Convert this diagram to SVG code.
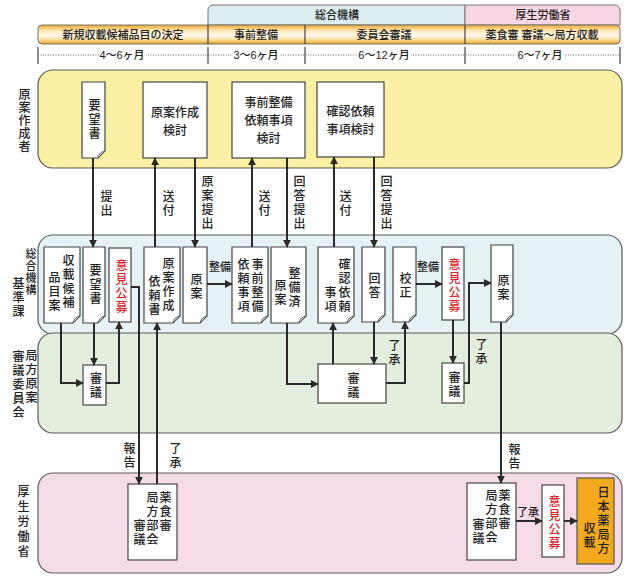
<svg xmlns="http://www.w3.org/2000/svg" width="641" height="578" viewBox="0 0 641 578">
<defs>
<linearGradient id="og" x1="0" y1="0" x2="0" y2="1">
<stop offset="0" stop-color="#eea52a"/><stop offset="0.28" stop-color="#fde6b0"/><stop offset="0.55" stop-color="#fffaf0"/><stop offset="0.8" stop-color="#fbd890"/><stop offset="1" stop-color="#eb9e1e"/>
</linearGradient>
<marker id="ah" viewBox="0 0 10 10" refX="9" refY="5" markerWidth="4" markerHeight="4" orient="auto"><path d="M0,0L10,5L0,10Z" fill="#2a2a2a"/></marker>
</defs>
<style>
text{font-family:"Liberation Sans","Noto Sans CJK JP",sans-serif;fill:#222;font-weight:500}
.h{font-size:11px;text-anchor:middle;dominant-baseline:central}
.v{writing-mode:vertical-rl;text-anchor:middle;font-size:12px;letter-spacing:2px}
.lane{stroke:#5a5a5a;stroke-width:1.2}
.box{fill:#fff;stroke:#444;stroke-width:1.2}
.fold{fill:#d8d8d8;stroke:#444;stroke-width:0.8}
.ln{fill:none;stroke:#2a2a2a;stroke-width:2;marker-end:url(#ah)}
.red{fill:#e3232c}
.tick{stroke:#444;stroke-width:1.2}
</style>
<rect width="641" height="578" fill="#fff"/>

<g id="header">
<path d="M208,25V10a5,5 0 0 1 5,-5H465V25Z" fill="#dcedf2" stroke="#777"/>
<path d="M465,25V5H615a5,5 0 0 1 5,5V25Z" fill="#f8d6e6" stroke="#777"/>
<text class="h" x="337" y="15">総合機構</text>
<text class="h" x="543" y="15">厚生労働省</text>
<rect x="38" y="25" width="582" height="19" rx="4" fill="url(#og)" stroke="#777"/>
<path d="M208,25V44M305,25V44M465,25V44" class="tick"/>
<text class="h" x="123" y="35">新規収載候補品目の決定</text>
<text class="h" x="256" y="35">事前整備</text>
<text class="h" x="384" y="35">委員会審議</text>
<text class="h" x="542" y="35">薬食審 審議～局方収載</text>
<line x1="38" y1="55" x2="620" y2="55" stroke="#666" stroke-dasharray="1 1.5"/>
<rect x="99" y="47" width="47" height="16" fill="#fff"/>
<rect x="233" y="47" width="47" height="16" fill="#fff"/>
<rect x="357" y="47" width="54" height="16" fill="#fff"/>
<rect x="516" y="47" width="48" height="16" fill="#fff"/>
<path d="M38,47V64M208,47V64M305,47V64M465,47V64M620,47V64" class="tick"/>
<text class="h" x="122" y="55">4～6ヶ月</text>
<text class="h" x="256" y="55">3～6ヶ月</text>
<text class="h" x="384" y="55">6～12ヶ月</text>
<text class="h" x="540" y="55">6～7ヶ月</text>
</g>

<g id="lane-author">
<rect x="38" y="70" width="584" height="98" rx="15" fill="#fbf0a4" class="lane"/>
<text class="v" x="23" y="121" style="letter-spacing:1px">原案作成者</text>
</g>
<g id="lane-pmda">
<rect x="38" y="235" width="584" height="99" rx="15" fill="#e4f1f5" class="lane"/>
<text class="v" x="30" y="272" style="font-size:11px;letter-spacing:1px">総合機構</text>
<text class="v" x="17" y="298">基準課</text>
</g>
<g id="lane-committee">
<rect x="38" y="333" width="584" height="100" rx="15" fill="#e2efdc" class="lane"/>
<text class="v" x="30" y="377">局方原案</text>
<text class="v" x="17" y="385">審議委員会</text>
</g>
<g id="lane-mhlw">
<rect x="38" y="473" width="584" height="100" rx="15" fill="#f6dbe9" class="lane"/>
<text class="v" x="22" y="523" style="letter-spacing:3px">厚生労働省</text>
</g>

<g id="n-youbou1"><path class="box" d="M82,82H105V151L98,158H82Z"/><path class="fold" d="M105,151L98,158Q99,152 105,151Z"/><text class="v" x="93" y="120">要望書</text></g>
<g id="n-gen-kentou"><rect class="box" x="143" y="82" width="64" height="76"/><text class="h" x="175" y="113" style="font-size:12px">原案作成</text><text class="h" x="175" y="131" style="font-size:12px">検討</text></g>
<g id="n-jizen-kentou"><rect class="box" x="232" y="82" width="73" height="76"/><text class="h" x="268.5" y="103" style="font-size:12px">事前整備</text><text class="h" x="268.5" y="121" style="font-size:12px">依頼事項</text><text class="h" x="268.5" y="139" style="font-size:12px">検討</text></g>
<g id="n-kakunin-kentou"><rect class="box" x="317" y="82" width="67" height="75"/><text class="h" x="350.5" y="112" style="font-size:12px">確認依頼</text><text class="h" x="350.5" y="130" style="font-size:12px">事項検討</text></g>

<g id="n-kouho"><path class="box" d="M44,247H80V316L73,323H44Z"/><path class="fold" d="M80,316L73,323Q74,317 80,316Z"/><text class="v" x="67" y="282">収載候補</text><text class="v" x="53" y="292">品目案</text></g>
<g id="n-youbou2"><path class="box" d="M83,247H105V316L98,323H83Z"/><path class="fold" d="M105,316L98,323Q99,317 105,316Z"/><text class="v" x="94" y="285">要望書</text></g>
<g id="n-iken1"><rect class="box" x="109" y="248" width="22" height="74"/><text class="v red" x="120" y="287">意見公募</text></g>
<g id="n-irai"><path class="box" d="M144,247H180V316L173,323H144Z"/><path class="fold" d="M180,316L173,323Q174,317 180,316Z"/><text class="v" x="167" y="285">原案作成</text><text class="v" x="153" y="296">依頼書</text></g>
<g id="n-genan1"><path class="box" d="M183,247H207V316L200,323H183Z"/><path class="fold" d="M207,316L200,323Q201,317 207,316Z"/><text class="v" x="195" y="287">原案</text></g>
<g id="n-jizen-irai"><path class="box" d="M232,247H268V316L261,323H232Z"/><path class="fold" d="M268,316L261,323Q262,317 268,316Z"/><text class="v" x="256" y="286">事前整備</text><text class="v" x="242" y="286">依頼事項</text></g>
<g id="n-seibizumi"><path class="box" d="M271,247H306V316L299,323H271Z"/><path class="fold" d="M306,316L299,323Q300,317 306,316Z"/><text class="v" x="293" y="288">整備済</text><text class="v" x="279" y="293">原案</text></g>
<g id="n-kakunin-irai"><path class="box" d="M318,247H354V316L347,323H318Z"/><path class="fold" d="M354,316L347,323Q348,317 354,316Z"/><text class="v" x="343" y="286">確認依頼</text><text class="v" x="329" y="300">事項</text></g>
<g id="n-kaitou"><path class="box" d="M362,247H385V315L378,322H362Z"/><path class="fold" d="M385,315L378,322Q379,316 385,315Z"/><text class="v" x="373" y="286">回答</text></g>
<g id="n-kousei"><path class="box" d="M393,247H416V315L409,322H393Z"/><path class="fold" d="M416,315L409,322Q410,316 416,315Z"/><text class="v" x="404" y="286">校正</text></g>
<g id="n-iken2"><rect class="box" x="442" y="247" width="22" height="73"/><text class="v red" x="453" y="286">意見公募</text></g>
<g id="n-genan2"><path class="box" d="M491,245H513V315L506,322H491Z"/><path class="fold" d="M513,315L506,322Q507,316 513,315Z"/><text class="v" x="502" y="288">原案</text></g>

<g id="n-shingi1"><rect class="box" x="83" y="365" width="23" height="40"/><text class="v" x="94.5" y="386">審議</text></g>
<g id="n-shingi2"><rect class="box" x="318" y="364" width="68" height="39"/><text class="v" x="352" y="386">審議</text></g>
<g id="n-shingi3"><rect class="box" x="442" y="363" width="22" height="40"/><text class="v" x="453" y="385">審議</text></g>

<g id="n-bukai1"><rect class="box" x="128" y="484" width="49" height="76"/><text class="v" x="164" y="512">薬食審</text><text class="v" x="151" y="519">局方部会</text><text class="v" x="138" y="533">審議</text></g>
<g id="n-bukai2"><rect class="box" x="467" y="483" width="49" height="77"/><text class="v" x="503" y="510">薬食審</text><text class="v" x="490" y="517">局方部会</text><text class="v" x="477" y="532">審議</text></g>
<g id="n-iken3"><rect class="box" x="542" y="485" width="22" height="72"/><text class="v red" x="553" y="523">意見公募</text></g>
<g id="n-jp"><rect x="577" y="478" width="37" height="86" fill="#f3a91c" stroke="#555" stroke-width="1.2"/><text class="v" x="602" y="521">日本薬局方</text><text class="v" x="588" y="536">収載</text></g>

<g id="connectors">
<path class="ln" d="M93,158V247"/>
<path class="ln" d="M155,247V158"/>
<path class="ln" d="M195,158V247"/>
<path class="ln" d="M252,247V158"/>
<path class="ln" d="M287,158V247"/>
<path class="ln" d="M334,247V157"/>
<path class="ln" d="M374,157V247"/>
<path class="ln" d="M207,284H232"/>
<path class="ln" d="M416,284H442"/>
<path class="ln" d="M61,323V383H83"/>
<path class="ln" d="M94,323V365"/>
<path class="ln" d="M106,383H119V322"/>
<path class="ln" d="M131,287H139V484"/>
<path class="ln" d="M157,484V323"/>
<path class="ln" d="M287,323V384H318"/>
<path class="ln" d="M333,364V323"/>
<path class="ln" d="M374,322V364"/>
<path class="ln" d="M386,383H405V322"/>
<path class="ln" d="M453,320V363"/>
<path class="ln" d="M464,383H469V283H491"/>
<path class="ln" d="M501,322V483"/>
<path class="ln" d="M516,521H542"/>
<path class="ln" d="M564,521H577"/>
<text class="v" x="105" y="204">提出</text>
<text class="v" x="167" y="204">送付</text>
<text class="v" x="206" y="203">原案提出</text>
<text class="v" x="263" y="204">送付</text>
<text class="v" x="298" y="203">回答提出</text>
<text class="v" x="344" y="204">送付</text>
<text class="v" x="385" y="203">回答提出</text>
<text class="h" x="220" y="267">整備</text>
<text class="h" x="428" y="267">整備</text>
<text class="v" x="393" y="353">了承</text>
<text class="v" x="480" y="352">了承</text>
<text class="v" x="128" y="456">報告</text>
<text class="v" x="174" y="456">了承</text>
<text class="v" x="513" y="457">報告</text>
<text class="h" x="528" y="512">了承</text>
</g>
</svg>
